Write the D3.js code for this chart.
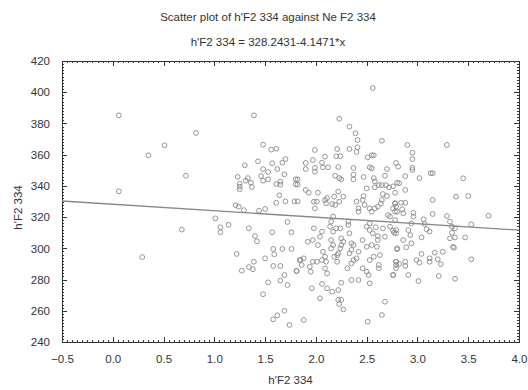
<!DOCTYPE html>
<html lang="en">
<head>
  <meta charset="UTF-8">
  <title>Scatter plot of h'F2 334 against Ne F2 334</title>
  <script src="https://d3js.org/d3.v7.min.js"></script>
  <style>
    body { margin: 0; background: #fff; }
    text { font-family: "Liberation Sans", Arial, sans-serif; fill: #333; }
    .axis path { stroke: none; }
    .axis line { stroke: #333; shape-rendering: crispEdges; }
  </style>
</head>
<body>
  <script>
    // Regression line coefficients
    const intercept = 328.2431;
    const slope = -4.1471;

    const xTicks = [-0.5, 0.0, 0.5, 1.0, 1.5, 2.0, 2.5, 3.0, 3.5, 4.0];
    const yTicks = [240, 260, 280, 300, 320, 340, 360, 380, 400, 420];

    const xs = [
      0.06, 0.35, 0.51, 0.82, 0.72, 0.06, 0.29, 0.68,
      1.39, 1.48, 1.56, 1.61, 1.70, 1.67, 1.43, 1.57, 1.30, 1.48, 1.62, 1.53, 1.69, 1.46, 1.23, 1.33,
      1.31, 1.48, 1.53, 1.36, 1.25, 1.25, 1.25, 1.37, 1.61, 1.65, 1.65, 1.80, 1.80, 1.64,
      1.61, 1.70, 1.79, 1.82, 1.21, 1.24, 1.29, 1.44, 1.50, 1.01, 1.06, 1.06, 1.14, 1.34, 1.40, 1.42,
      1.57, 1.72, 1.76, 1.58, 1.67, 1.76, 1.59, 1.22, 1.39, 1.50, 1.34, 1.38, 1.27, 1.58, 1.65, 1.84,
      1.81, 1.69, 1.65, 1.53, 1.72, 1.48, 1.69, 1.62, 1.58, 1.74,
      2.56, 2.23, 2.33, 2.39, 2.41, 2.65, 2.33, 2.41, 2.40, 2.21, 1.99, 2.20, 2.24, 2.09, 1.97, 1.90,
      2.06, 2.51, 2.55, 2.57, 2.79, 2.81, 1.90, 1.99, 1.99, 2.07, 2.12, 2.22, 2.37, 2.53, 2.55, 2.70,
      1.82, 1.82, 2.19, 2.23, 2.25, 2.37, 2.37, 2.47, 2.57, 2.58, 2.68, 1.90, 1.93, 2.02, 2.11, 2.18,
      2.22, 2.27, 2.50, 2.58, 2.62, 2.65, 2.69, 2.72, 2.76, 2.80, 2.66, 2.70, 2.47,
      1.98, 2.01, 2.09, 2.10, 2.16, 2.19, 2.23, 1.99, 2.40, 2.42, 2.42, 2.46, 2.48, 2.53, 2.55, 2.58,
      2.61, 2.64, 2.65, 2.71, 2.73, 2.78, 2.79, 2.80,
      2.17, 2.15, 2.14, 2.17, 2.20, 2.24, 2.15, 2.32, 2.32, 2.33, 1.98, 2.06, 2.04, 1.97, 1.92, 2.02,
      2.25, 2.27, 2.25, 2.17, 2.15, 2.24, 2.22, 2.35, 2.37, 2.35, 2.42, 2.33,
      2.46, 2.50, 2.55, 2.60, 2.61, 2.56, 2.53, 2.50, 2.53, 2.59, 2.66, 2.61, 2.68, 2.73, 2.77, 2.79, 2.80,
      2.07, 2.09, 2.10, 2.06, 2.01, 1.97, 1.94, 1.88, 1.85, 1.86, 1.81, 1.95, 2.09, 2.11, 2.21, 2.18, 2.21,
      2.31, 2.35, 2.37, 2.40, 2.46, 2.50, 2.52, 2.53, 2.57, 2.63, 2.62, 2.62, 2.53, 2.79, 2.79, 2.76,
      2.35, 2.42, 2.25, 1.96, 2.06, 2.11, 2.16, 2.22, 2.04, 2.22, 2.25, 2.23, 2.27,
      2.68, 2.65, 2.51, 1.88,
      2.90, 3.29, 2.95, 2.95, 2.95, 2.95, 2.88, 3.02, 3.13, 3.15, 3.45, 2.82, 2.88, 2.78, 3.15, 3.38, 3.50,
      2.78, 2.84, 2.88, 2.76, 2.78, 2.85, 2.86, 2.96, 2.96, 3.15, 3.29, 3.70,
      2.78, 2.94, 3.06, 3.07, 3.09, 3.12, 3.32, 3.34, 3.37, 3.53,
      2.76, 2.79, 2.91, 2.93, 2.86, 3.04, 3.32, 3.37, 3.34, 3.47,
      2.94, 2.89, 2.80, 3.35, 3.36,
      3.04, 3.17, 3.25, 3.12, 3.20, 3.23, 3.12, 2.99, 3.02, 3.53,
      2.79, 2.82, 2.88, 2.88, 2.79, 2.76, 2.91, 3.01, 3.21, 3.37
    ];
    const ys = [
      385.2, 359.6, 366.0, 373.9, 346.5, 336.5, 294.4, 312.0,
      385.2, 366.4, 363.2, 363.8, 357.2, 354.9, 355.7, 354.5, 353.2, 350.8, 350.8, 348.9, 347.4, 346.3, 345.7, 345.0,
      343.3, 343.3, 344.2, 342.0, 341.4, 339.5, 337.8, 339.3, 341.2, 340.8, 342.7, 344.2, 341.0, 334.0,
      329.2, 330.1, 330.1, 330.1, 327.6, 326.7, 324.5, 324.1, 325.2, 319.2, 313.5, 310.3, 315.1, 312.8, 307.9, 304.5,
      310.3, 316.9, 310.3, 299.6, 299.6, 299.6, 296.2, 296.4, 291.4, 293.6, 288.0, 286.6, 285.7, 288.7, 288.7, 292.5,
      285.5, 282.9, 279.3, 278.2, 276.5, 270.6, 260.0, 257.1, 254.5, 250.9,
      402.7, 383.0, 377.9, 373.7, 369.4, 368.9, 363.6, 364.7, 361.7, 363.6, 363.0, 359.0, 359.0, 358.7, 356.6, 354.7,
      354.9, 358.3, 359.6, 359.6, 354.7, 352.3, 350.8, 351.6, 349.1, 351.9, 351.9, 352.1, 351.5, 351.9, 351.3, 350.8,
      344.2, 340.8, 346.5, 345.0, 344.2, 347.2, 344.2, 345.7, 345.0, 342.9, 346.5, 337.4, 335.6, 335.6, 332.2, 333.1,
      336.3, 333.1, 338.4, 339.1, 340.5, 340.5, 340.5, 339.1, 339.7, 342.0, 334.8, 333.5, 333.5,
      329.9, 329.9, 331.0, 328.8, 328.4, 327.8, 329.9, 325.6, 329.9, 325.6, 323.5, 331.0, 327.8, 325.6, 323.5, 325.6,
      326.7, 328.8, 331.0, 321.3, 320.3, 328.8, 326.7, 323.5,
      320.3, 317.1, 313.9, 310.7, 312.8, 312.8, 305.3, 317.1, 315.0, 309.6, 312.8, 310.7, 307.4, 305.3, 304.2, 302.1,
      306.4, 304.2, 302.1, 302.1, 300.0, 300.0, 296.8, 303.2, 302.1, 299.0, 297.8, 296.8,
      305.3, 301.0, 302.1, 301.0, 305.3, 309.6, 311.7, 313.9, 316.0, 313.5, 312.8, 307.9, 307.4, 313.9, 310.0, 311.7, 300.0,
      297.8, 294.6, 291.4, 292.5, 291.4, 291.4, 288.2, 293.6, 292.5, 289.3, 285.5, 285.0, 287.1, 283.9, 295.6, 294.6, 291.4,
      287.2, 290.4, 292.5, 293.6, 287.2, 285.0, 282.9, 292.5, 294.6, 295.7, 289.3, 287.2, 277.6, 291.4, 289.3, 282.9,
      279.7, 279.7, 278.0, 274.4, 277.2, 274.4, 272.2, 273.3, 268.0, 267.0, 267.0, 264.3, 260.9,
      265.8, 257.3, 253.0, 254.1,
      366.2, 366.2, 361.3, 357.2, 351.6, 350.2, 346.3, 345.0, 348.1, 348.1, 344.9, 341.7, 337.4, 335.6, 331.0, 333.1, 333.5,
      328.8, 329.2, 329.2, 325.6, 323.5, 325.0, 322.4, 322.8, 320.3, 322.0, 320.7, 320.9,
      318.1, 316.0, 318.6, 315.6, 312.2, 310.7, 317.1, 313.9, 312.8, 315.4,
      311.3, 309.6, 311.7, 308.5, 305.3, 307.0, 306.4, 307.0, 310.0, 307.0,
      303.2, 300.7, 299.4, 301.0, 300.4,
      296.4, 297.2, 297.8, 293.6, 293.0, 289.9, 291.4, 292.5, 290.8, 293.0,
      291.4, 290.0, 291.4, 288.7, 287.2, 282.9, 282.9, 279.0, 282.3, 280.5
    ];

    const W = 528, H = 390;
    const margin = { top: 61, right: 9, bottom: 48, left: 62 };
    const width = W - margin.left - margin.right,
          height = H - margin.top - margin.bottom;

    const svg = d3.select("body").append("svg")
      .attr("width", W)
      .attr("height", H);

    const g = svg.append("g")
      .attr("transform", `translate(${margin.left},${margin.top})`);

    const x = d3.scaleLinear().domain([-0.5, 4.0]).range([0, width]);
    const y = d3.scaleLinear().domain([240, 420]).range([height, 0]);

    // minor tick positions
    const xMinor = d3.range(-0.5, 4.0001, 0.05).map(v => +v.toFixed(2));
    const yMinor = d3.range(240, 420.1, 2);

    // bottom axis with labels
    g.append("g").attr("class", "axis")
      .attr("transform", `translate(0,${height})`)
      .call(d3.axisBottom(x).tickValues(xTicks).tickSize(-5).tickPadding(13)
        .tickFormat(d3.format(".1f")))
      .call(a => a.selectAll("text").attr("font-size", 11.5));
    g.append("g").attr("class", "axis")
      .attr("transform", `translate(0,${height})`)
      .call(d3.axisBottom(x).tickValues(xMinor).tickSize(-2).tickFormat(""));

    // top axis
    g.append("g").attr("class", "axis")
      .call(d3.axisTop(x).tickValues(xTicks).tickSize(-5).tickFormat(""));
    g.append("g").attr("class", "axis")
      .call(d3.axisTop(x).tickValues(xMinor).tickSize(-2).tickFormat(""));

    // left axis with labels
    g.append("g").attr("class", "axis")
      .call(d3.axisLeft(y).tickValues(yTicks).tickSize(-5).tickPadding(12))
      .call(a => a.selectAll("text").attr("font-size", 11.5));
    g.append("g").attr("class", "axis")
      .call(d3.axisLeft(y).tickValues(yMinor).tickSize(-2).tickFormat(""));

    // right axis
    g.append("g").attr("class", "axis")
      .attr("transform", `translate(${width},0)`)
      .call(d3.axisRight(y).tickValues(yTicks).tickSize(-5).tickFormat(""));
    g.append("g").attr("class", "axis")
      .attr("transform", `translate(${width},0)`)
      .call(d3.axisRight(y).tickValues(yMinor).tickSize(-2).tickFormat(""));

    // frame
    g.append("rect")
      .attr("width", width)
      .attr("height", height)
      .attr("fill", "none")
      .attr("stroke", "#333")
      .attr("stroke-width", 1)
      .attr("shape-rendering", "crispEdges");

    // points
    const pts = xs.map((v, i) => ({ x: v, y: ys[i] }));
    g.selectAll(".pt")
      .data(pts)
      .enter().append("circle")
      .attr("class", "pt")
      .attr("cx", d => x(d.x))
      .attr("cy", d => y(d.y))
      .attr("r", 2.4)
      .attr("fill", "none")
      .attr("stroke", "#8a8a8a")
      .attr("stroke-width", 0.9);

    // regression line
    const line = d3.line().x(d => x(d)).y(d => y(intercept + slope * d));
    g.append("path")
      .attr("d", line(x.domain()))
      .attr("fill", "none")
      .attr("stroke", "#888")
      .attr("stroke-width", 1.3);

    // titles
    svg.append("text")
      .attr("x", 268).attr("y", 21)
      .attr("text-anchor", "middle")
      .attr("font-size", 11.5)
      .text("Scatter plot of h'F2 334 against Ne F2 334");
    svg.append("text")
      .attr("x", 268).attr("y", 46)
      .attr("text-anchor", "middle")
      .attr("font-size", 11.5)
      .text("h'F2 334 = 328.2431-4.1471*x");

    svg.append("text")
      .attr("x", margin.left + width / 2).attr("y", 384)
      .attr("text-anchor", "middle")
      .attr("font-size", 11.5)
      .text("h'F2 334");

    svg.append("text")
      .attr("transform", `translate(22,${margin.top + height / 2 + 6}) rotate(-90)`)
      .attr("text-anchor", "middle")
      .attr("font-size", 11.5)
      .text("h'F2 334");
  </script>
</body>
</html>
